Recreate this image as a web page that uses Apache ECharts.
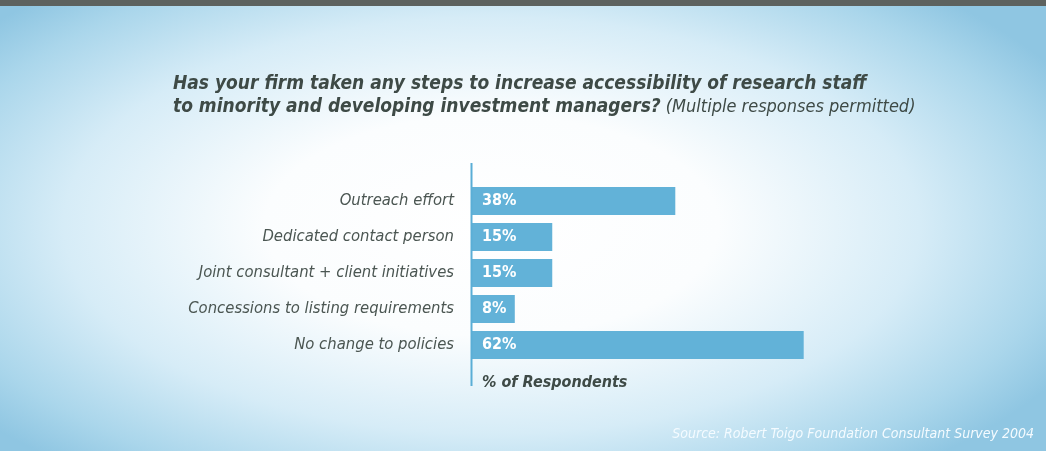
<!DOCTYPE html>
<html><head><meta charset="utf-8">
<script src="https://cdn.jsdelivr.net/npm/echarts@6/dist/echarts.min.js"></script>
<style>
html,body{margin:0;padding:0;}
#wrap{width:1046px;height:451px;position:relative;overflow:hidden;
background:radial-gradient(ellipse 62% 70% at 47% 50%, #ffffff 0%, #fbfdfe 35%, #d6ecf7 66%, #aad6eb 88%, #8fc6e2 100%);}
#strip{position:absolute;left:0;top:0;width:1046px;height:6px;background:#5d625f;}
#chart{position:absolute;left:0;top:0;width:1046px;height:451px;}
</style></head>
<body><div id="wrap"><div id="strip"></div><div id="chart"></div></div>
<script>
const categories = ['Outreach effort','Dedicated contact person','Joint consultant + client initiatives','Concessions to listing requirements','No change to policies'];
const values = [38, 15, 15, 8, 62];
const titleLine1 = 'Has your firm taken any steps to increase accessibility of research staff';
const titleLine2 = 'to minority and developing investment managers?';
const titleNote = '(Multiple responses permitted)';
const axisName = '% of Respondents';
const source = 'Source: Robert Toigo Foundation Consultant Survey 2004';

const FONT = '"Liberation Sans Narrow","DejaVu Sans Condensed",sans-serif';
const DARK = '#3e4a46';
const chart = echarts.init(document.getElementById('chart'));
chart.setOption({
  backgroundColor: 'transparent',
  title: {
    left: 168, top: 68,
    text: '{b|' + titleLine1 + '}\n{b|' + titleLine2 + '} {n|' + titleNote + '}',
    textStyle: {
      rich: {
        b: {fontFamily: FONT, fontWeight: 'bold', fontStyle: 'italic', fontSize: 19, color: DARK, lineHeight: 23},
        n: {fontFamily: FONT, fontWeight: 'normal', fontStyle: 'italic', fontSize: 18, color: DARK, lineHeight: 23}
      }
    }
  },
  grid: {left: 472, right: 39, top: 183, height: 180, containLabel: false},
  xAxis: {
    type: 'value', min: 0, max: 100,
    show: true,
    axisLine: {show: false}, axisTick: {show: false}, axisLabel: {show: false}, splitLine: {show: false},
    name: axisName, nameLocation: 'start', nameGap: 0,
    nameTextStyle: {fontFamily: FONT, fontWeight: 'bold', fontStyle: 'italic', fontSize: 16, color: DARK,
      align: 'left', verticalAlign: 'top', padding: [12, 0, 0, 10]}
  },
  yAxis: {
    type: 'category', data: categories, inverse: true,
    axisLine: {show: false}, axisTick: {show: false}, splitLine: {show: false},
    axisLabel: {fontFamily: FONT, fontStyle: 'italic', fontSize: 16.5, color: '#4b5652', margin: 18}
  },
  series: [{
    type: 'bar', data: values, barWidth: 28,
    itemStyle: {color: '#62b2d8'},
    label: {show: true, position: 'insideLeft', distance: 10, formatter: '{c}%',
      fontFamily: FONT, fontWeight: 'bold', fontSize: 16, color: '#ffffff'},
    silent: true
  }],
  graphic: [
    {type: 'line', shape: {x1: 471.5, y1: 163, x2: 471.5, y2: 386}, style: {stroke: '#5aaed6', lineWidth: 2}, z: 10},
    {type: 'text', right: 12, top: 427, style: {text: source, fontFamily: FONT, fontStyle: 'italic', fontSize: 14, fill: '#f4fbff'}}
  ]
});
</script></body></html>
